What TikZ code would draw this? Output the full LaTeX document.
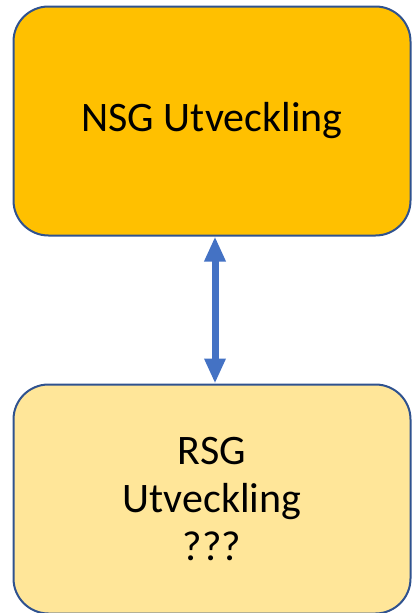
\documentclass[tikz,border=0pt]{standalone}
\usepackage{fontspec}
\setmainfont{Carlito}
\usetikzlibrary{arrows.meta,positioning}
\definecolor{gold}{HTML}{FFC000}
\definecolor{lightgold}{HTML}{FFE699}
\definecolor{frame}{HTML}{2F528F}
\definecolor{arrowblue}{HTML}{4472C4}
\begin{document}
\begin{tikzpicture}[x=1pt, y=1pt, font=\fontsize{42}{48}\selectfont,
  unit/.style={draw=frame, line width=2pt, rounded corners=35pt, align=center,
               minimum width=397pt, minimum height=229pt, inner sep=0pt},
  national/.style={unit, fill=gold},
  regional/.style={unit, fill=lightgold}]

\useasboundingbox (0,0) rectangle (412,-613);

\node[national] (nsg) at (212,-121) {NSG Utveckling};
\node[regional] (rsg) [below=147pt of nsg] {RSG\\Utveckling\\???};

% two-way link between the groups
\draw[arrowblue, line width=7pt, {Triangle[width=20pt,length=25pt]}-{Triangle[width=20pt,length=25pt]}]
  ([xshift=3pt]nsg.south) -- ([xshift=3pt]rsg.north);

\end{tikzpicture}
\end{document}
